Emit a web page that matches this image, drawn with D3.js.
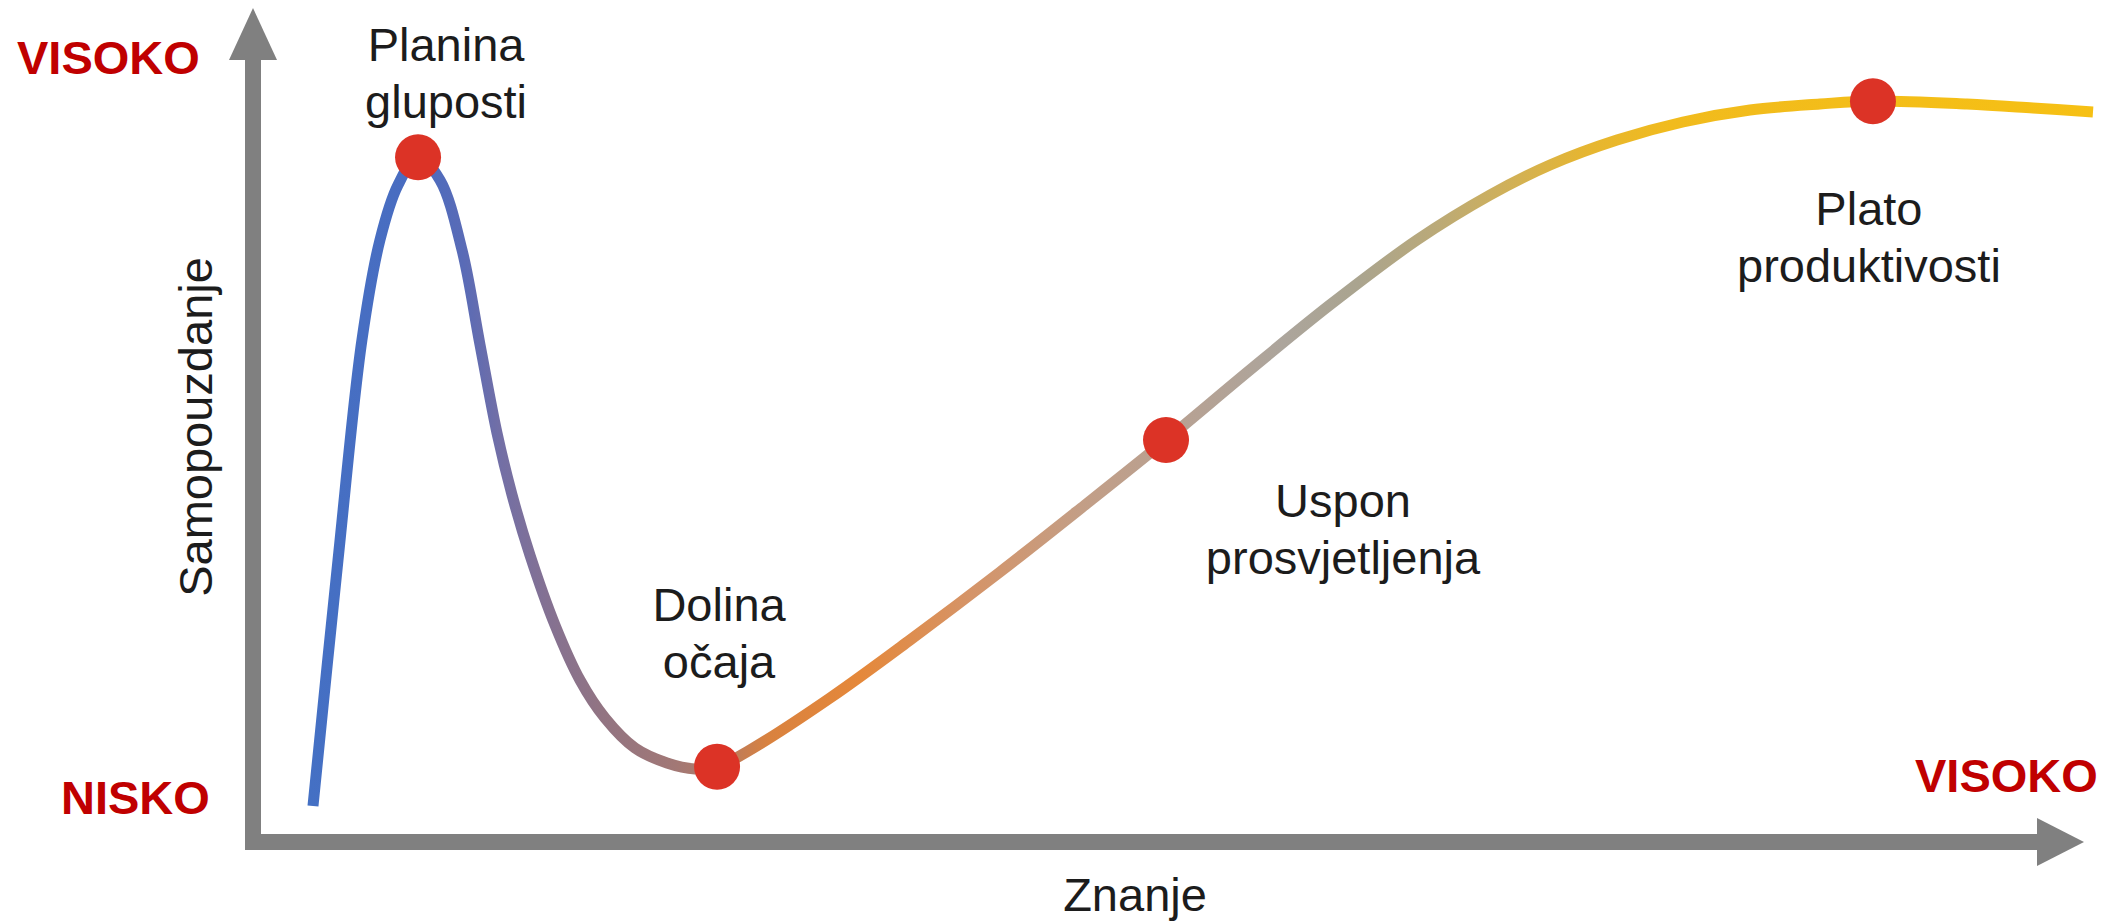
<!DOCTYPE html>
<html>
<head>
<meta charset="utf-8">
<script src="https://cdn.jsdelivr.net/npm/d3@7"></script>
<style>
  html, body { margin: 0; padding: 0; background: #ffffff; overflow: hidden; }
  svg { display: block; }
</style>
</head>
<body>
<svg id="chart" width="2116" height="922"></svg>
<script>
// ---------------- DATA ----------------
// Dunning–Kruger curve: knowledge (x, 0–100) vs confidence (y, 0–100)
const curveX = [3.26, 4.62, 5.92, 6.90, 7.88, 8.97, 10.16, 11.36, 12.34, 13.26, 14.08, 15.05, 16.41,
                17.77, 19.13, 20.76, 22.5, 24.02, 25.22, 27.01, 31.36, 35.71, 40.6, 45.22, 49.62,
                54.18, 58.53, 63.26, 67.23, 70.49, 74.13, 77.72, 81.36, 85.16, 88.04, 93.15, 96.74, 100];
const curveY = [4.5, 35.25, 62.75, 75.25, 82.13, 85.63, 82.75, 74, 62.13, 51.13, 43.38, 35.88, 27.13,
                20.25, 15.5, 11.75, 9.88, 9.13, 9.38, 11.5, 18, 25.25, 33.75, 42.13, 50.25,
                59, 67.13, 75.25, 80.88, 84.63, 87.75, 90, 91.5, 92.25, 92.63, 92.25, 91.75, 91.25];

const stageNames = [["Planina", "gluposti"], ["Dolina", "očaja"], ["Uspon", "prosvjetljenja"], ["Plato", "produktivosti"]];
const stageX = [8.97, 25.22, 49.62, 88.04];
const stageY = [85.6, 9.4, 50.25, 92.6];

const xAxisTitle = "Znanje";
const yAxisTitle = "Samopouzdanje";
const yHighLabel = "VISOKO";
const yLowLabel = "NISKO";
const xHighLabel = "VISOKO";

// ---------------- STYLE / LAYOUT ----------------
const W = 2116, H = 922;
const FONT = "'Liberation Sans', Arial, Helvetica, sans-serif";
const AXIS_COLOR = "#808080";
const RED_TEXT = "#c00000";
const TEXT_COLOR = "#1c1c1c";
const DOT_COLOR = "#dc3326";

// gradient stops along knowledge axis (x value -> colour)
const gradientStops = [
  [3, "#4470c4"], [9, "#4a6cc0"], [11.5, "#5a6bb6"], [13.5, "#736fa5"], [16, "#847192"],
  [19, "#927482"], [23, "#a27875"], [25.5, "#b67a62"], [28, "#d9823f"], [33, "#e5883a"],
  [39, "#d59468"], [45, "#c39e86"], [50, "#b8a192"], [56, "#aca59c"], [60, "#aaa48f"],
  [64, "#b9a97a"], [68, "#cfb05a"], [72, "#e4b534"], [77, "#f1bb1d"], [100, "#f6c014"]
];

// label offsets in pixels relative to each stage dot: [dx, dy of first baseline]
const labelOffsets = [[28, -96], [2, -146], [177, 77], [-4, 124]];
const LINE_GAP = 57;

const svg = d3.select("#chart");

const x = d3.scaleLinear().domain([0, 100]).range([253, 2093]);
const y = d3.scaleLinear().domain([0, 100]).range([842, 42]);

// ---------------- AXES (arrows) ----------------
const ax0 = x(0), ay0 = y(0);
const axisW = 16;
const g = svg.append("g");

// y axis shaft + head
g.append("rect")
  .attr("x", ax0 - axisW / 2).attr("y", 58)
  .attr("width", axisW).attr("height", ay0 + axisW / 2 - 58)
  .attr("fill", AXIS_COLOR);
g.append("path")
  .attr("d", `M${ax0 - 24},60 L${ax0 + 24},60 L${ax0},8 Z`)
  .attr("fill", AXIS_COLOR);

// x axis shaft + head
g.append("rect")
  .attr("x", ax0 - axisW / 2).attr("y", ay0 - axisW / 2)
  .attr("width", 2039 - (ax0 - axisW / 2)).attr("height", axisW)
  .attr("fill", AXIS_COLOR);
g.append("path")
  .attr("d", `M2037,${ay0 - 24} L2037,${ay0 + 24} L2084,${ay0} Z`)
  .attr("fill", AXIS_COLOR);

// ---------------- GRADIENT ----------------
const defs = svg.append("defs");
const grad = defs.append("linearGradient")
  .attr("id", "curveGrad")
  .attr("gradientUnits", "userSpaceOnUse")
  .attr("x1", x(0)).attr("y1", 0)
  .attr("x2", x(100)).attr("y2", 0);
grad.selectAll("stop").data(gradientStops).join("stop")
  .attr("offset", d => d[0] / 100)
  .attr("stop-color", d => d[1]);

// ---------------- CURVE ----------------
const pts = curveX.map((v, i) => [v, curveY[i]]);
const line = d3.line()
  .x(d => x(d[0]))
  .y(d => y(d[1]))
  .curve(d3.curveCatmullRom.alpha(0.5));

svg.append("path")
  .datum(pts)
  .attr("d", line)
  .attr("fill", "none")
  .attr("stroke", "url(#curveGrad)")
  .attr("stroke-width", 11)
  .attr("stroke-linecap", "butt")
  .attr("stroke-linejoin", "round");

// ---------------- STAGE DOTS ----------------
svg.selectAll("circle.stage")
  .data(stageX.map((v, i) => [v, stageY[i]]))
  .join("circle")
  .attr("class", "stage")
  .attr("cx", d => x(d[0]))
  .attr("cy", d => y(d[1]))
  .attr("r", 23)
  .attr("fill", DOT_COLOR);

// ---------------- STAGE LABELS ----------------
stageNames.forEach((lines, i) => {
  const cx = x(stageX[i]) + labelOffsets[i][0];
  const by = y(stageY[i]) + labelOffsets[i][1];
  const t = svg.append("text")
    .attr("text-anchor", "middle")
    .attr("font-family", FONT)
    .attr("font-size", 47)
    .attr("fill", TEXT_COLOR);
  lines.forEach((ln, j) => {
    t.append("tspan").attr("x", cx).attr("y", by + j * LINE_GAP).text(ln);
  });
});

// ---------------- AXIS TITLES ----------------
svg.append("text")
  .attr("x", 1135).attr("y", 911)
  .attr("text-anchor", "middle")
  .attr("font-family", FONT).attr("font-size", 47)
  .attr("fill", TEXT_COLOR)
  .text(xAxisTitle);

svg.append("text")
  .attr("transform", "translate(212,427) rotate(-90)")
  .attr("text-anchor", "middle")
  .attr("font-family", FONT).attr("font-size", 47)
  .attr("fill", TEXT_COLOR)
  .text(yAxisTitle);

// ---------------- LEVEL LABELS ----------------
svg.append("text")
  .attr("x", 17).attr("y", 74)
  .attr("font-family", FONT).attr("font-size", 47).attr("font-weight", "bold")
  .attr("fill", RED_TEXT)
  .text(yHighLabel);

svg.append("text")
  .attr("x", 61).attr("y", 814)
  .attr("font-family", FONT).attr("font-size", 47).attr("font-weight", "bold")
  .attr("fill", RED_TEXT)
  .text(yLowLabel);

svg.append("text")
  .attr("x", 1915).attr("y", 792)
  .attr("font-family", FONT).attr("font-size", 47).attr("font-weight", "bold")
  .attr("fill", RED_TEXT)
  .text(xHighLabel);
</script>
</body>
</html>
